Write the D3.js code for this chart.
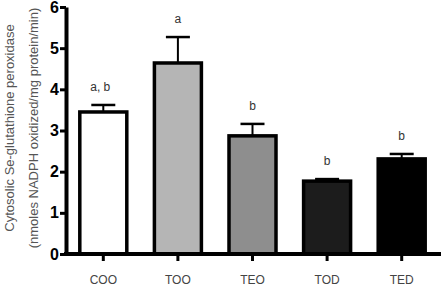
<!DOCTYPE html>
<html>
<head>
<meta charset="utf-8">
<script src="https://cdn.jsdelivr.net/npm/d3@7"></script>
<style>
  body { margin: 0; background: #fff; }
  svg { display: block; }
</style>
</head>
<body>
<div class="barChart"></div>
<script>
// data
const groups = ["COO", "TOO", "TEO", "TOD", "TED"];
const means = [3.45, 4.64, 2.87, 1.77, 2.31];
const sems = [0.17, 0.63, 0.29, 0.05, 0.12];
const letters = ["a, b", "a", "b", "b", "b"];
const fills = ["#ffffff", "#b5b5b5", "#8e8e8e", "#1c1c1c", "#000000"];
const yTicks = [0, 1, 2, 3, 4, 5, 6];

const width = 441, height = 290;
const margin = {top: 7, right: 2, bottom: 36, left: 66};

const svg = d3.select(".barChart")
  .append("svg")
  .attr("width", width)
  .attr("height", height);

// scales
const x = d3.scaleBand()
  .domain(groups)
  .range([margin.left, width - margin.right])
  .paddingInner(0.37)
  .paddingOuter(0.185);

const y = d3.scaleLinear()
  .domain([0, 6])
  .range([height - margin.bottom, margin.top]);

// bars
svg.selectAll("rect.bar")
  .data(groups)
  .join("rect")
  .attr("class", "bar")
  .attr("x", d => x(d))
  .attr("y", (d, i) => y(means[i]))
  .attr("width", x.bandwidth())
  .attr("height", (d, i) => y(0) - y(means[i]))
  .attr("fill", (d, i) => fills[i])
  .attr("stroke", "#000")
  .attr("stroke-width", 3.5);

// error bars (upper only)
const cx = d => x(d) + x.bandwidth() / 2;
svg.selectAll("line.err")
  .data(groups)
  .join("line")
  .attr("class", "err")
  .attr("x1", cx).attr("x2", cx)
  .attr("y1", (d, i) => y(means[i]))
  .attr("y2", (d, i) => y(means[i] + sems[i]))
  .attr("stroke", "#000")
  .attr("stroke-width", 2);

svg.selectAll("line.cap")
  .data(groups)
  .join("line")
  .attr("class", "cap")
  .attr("x1", d => cx(d) - 12).attr("x2", d => cx(d) + 12)
  .attr("y1", (d, i) => y(means[i] + sems[i]))
  .attr("y2", (d, i) => y(means[i] + sems[i]))
  .attr("stroke", "#000")
  .attr("stroke-width", 2.5);

// significance letters
svg.selectAll("text.sig")
  .data(groups)
  .join("text")
  .attr("class", "sig")
  .attr("x", (d, i) => cx(d) + (i === 0 ? -3 : 0))
  .attr("y", (d, i) => y(means[i] + sems[i]) - 14)
  .attr("text-anchor", "middle")
  .attr("font-family", "Liberation Sans, Arial, sans-serif")
  .attr("font-size", 12)
  .attr("fill", "#333")
  .text((d, i) => letters[i]);

// y axis
const yAxis = svg.append("g")
  .attr("transform", `translate(${margin.left}, 0)`)
  .call(d3.axisLeft(y).tickValues(yTicks).tickFormat(d3.format("d"))
    .tickSize(6).tickSizeOuter(0).tickPadding(1));
yAxis.select(".domain").attr("stroke", "#000").attr("stroke-width", 4);
yAxis.selectAll(".tick line").attr("stroke", "#000").attr("stroke-width", 3);
yAxis.selectAll(".tick text")
  .attr("font-family", "Liberation Sans, Arial, sans-serif")
  .attr("font-weight", "bold")
  .attr("font-size", 16)
  .attr("fill", "#000");

// x axis
const xAxis = svg.append("g")
  .attr("transform", `translate(0, ${y(0)})`)
  .call(d3.axisBottom(x).tickSize(7).tickSizeOuter(0).tickPadding(14));
xAxis.select(".domain")
  .attr("d", `M${margin.left - 2},0H${width}`)
  .attr("stroke", "#000").attr("stroke-width", 4);
xAxis.selectAll(".tick line").attr("stroke", "#000").attr("stroke-width", 3);
xAxis.selectAll(".tick text")
  .attr("font-family", "Liberation Sans, Arial, sans-serif")
  .attr("font-size", 12)
  .attr("fill", "#444");

// y axis title, two lines
const titleLines = ["Cytosolic Se-glutathione peroxidase", "(nmoles NADPH oxidized/mg protein/min)"];
svg.selectAll("text.ytitle")
  .data(titleLines)
  .join("text")
  .attr("class", "ytitle")
  .attr("transform", (d, i) => `translate(${14 + i * 24}, 128) rotate(-90)`)
  .attr("text-anchor", "middle")
  .attr("font-family", "Liberation Sans, Arial, sans-serif")
  .attr("font-size", 13)
  .attr("fill", "#555")
  .text(d => d);
</script>
</body>
</html>
